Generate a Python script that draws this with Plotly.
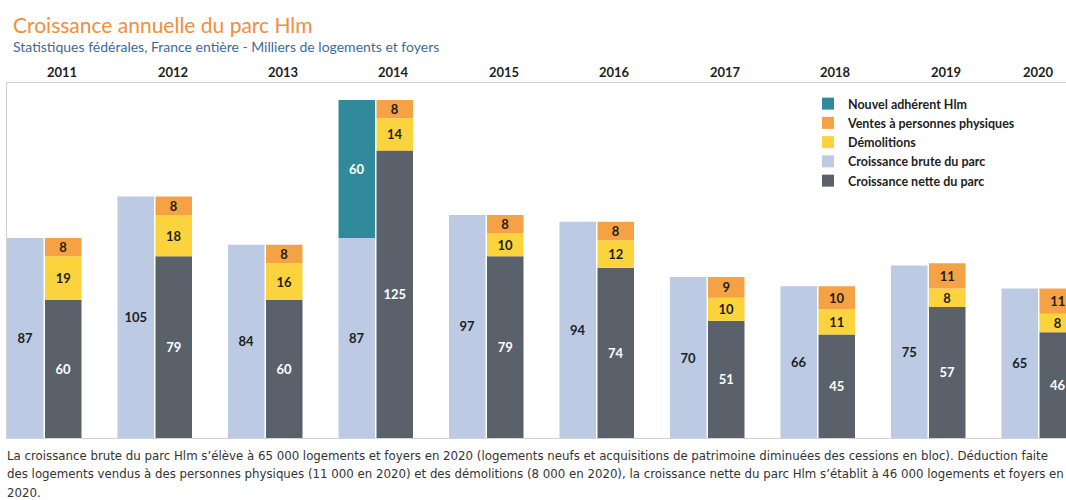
import plotly.graph_objects as go

years = [2011, 2012, 2013, 2014, 2015, 2016, 2017, 2018, 2019, 2020]
brute = [87, 105, 84, 87, 97, 94, 70, 66, 75, 65]
adherent = [None, None, None, 60, None, None, None, None, None, None]
nette = [60, 79, 60, 125, 79, 74, 51, 45, 57, 46]
demolitions = [19, 18, 16, 14, 10, 12, 10, 11, 8, 8]
ventes = [8, 8, 8, 8, 8, 8, 9, 10, 11, 11]

C_TEAL = "#318a9c"
C_ORANGE = "#f4a244"
C_YELLOW = "#fbd33c"
C_LIGHT = "#bccae4"
C_DARK = "#5b616b"

FONT = "Lato, 'Open Sans', sans-serif"
PANE = 110.5          # pixels per year
W = 36.5 / PANE
OFF_L = -0.5
OFF_R = -0.5 + 38 / PANE
FIG_W, FIG_H = 1066, 500
M_L, M_R, M_T, M_B = 7, 0, 83, 62
PLOT_W = FIG_W - M_L - M_R
PLOT_H = FIG_H - M_T - M_B

base_adh = [b if a is not None else None for a, b in zip(adherent, brute)]
base_dem = nette
base_ven = [n + d for n, d in zip(nette, demolitions)]

lbl_dark = dict(family=FONT, size=13, color="#1e1e1e", weight="bold")
lbl_white = dict(family=FONT, size=13, color="#ffffff", weight="bold")

fig = go.Figure()
fig.add_trace(go.Bar(x=years, y=brute, name="Croissance brute du parc", marker_color=C_LIGHT,
                     width=W, offset=OFF_L, text=brute, textposition="inside", insidetextanchor="middle",
                     textangle=0, textfont=lbl_dark, legendrank=4))
fig.add_trace(go.Bar(x=years, y=adherent, base=base_adh, name="Nouvel adhérent Hlm", marker_color=C_TEAL,
                     width=W, offset=OFF_L, text=adherent, textposition="inside", insidetextanchor="middle",
                     textangle=0, textfont=lbl_white, legendrank=1))
fig.add_trace(go.Bar(x=years, y=nette, name="Croissance nette du parc", marker_color=C_DARK,
                     width=W, offset=OFF_R, text=nette, textposition="inside", insidetextanchor="middle",
                     textangle=0, textfont=lbl_white, legendrank=5))
fig.add_trace(go.Bar(x=years, y=demolitions, base=base_dem, name="Démolitions", marker_color=C_YELLOW,
                     width=W, offset=OFF_R, text=demolitions, textposition="inside", insidetextanchor="middle",
                     textangle=0, textfont=lbl_dark, legendrank=3))
fig.add_trace(go.Bar(x=years, y=ventes, base=base_ven, name="Ventes à personnes physiques", marker_color=C_ORANGE,
                     width=W, offset=OFF_R, text=ventes, textposition="inside", insidetextanchor="middle",
                     textangle=0, textfont=lbl_dark, legendrank=2))

fig.update_traces(marker_line_width=0, hoverinfo="skip", cliponaxis=False)

annotations = []
for i, y in enumerate(years):
    annotations.append(dict(x=y, y=1, xref="x", yref="paper", yanchor="bottom", xanchor="center",
                            yshift=1, xshift=(-18 if i == len(years) - 1 else 0), showarrow=False,
                            text="<b>%d</b>" % y, font=dict(family=FONT, size=13, color="#1e1e1e")))

annotations.append(dict(x=0, y=1, xref="paper", yref="paper", xanchor="left", yanchor="middle",
                        xshift=4, yshift=59, showarrow=False, text="Croissance annuelle du parc Hlm",
                        font=dict(family=FONT, size=21, color="#f28e3c")))
annotations.append(dict(x=0, y=1, xref="paper", yref="paper", xanchor="left", yanchor="middle",
                        xshift=4, yshift=37, showarrow=False,
                        text="Statistiques fédérales, France entière - Milliers de logements et foyers",
                        font=dict(family=FONT, size=14, color="#3f6a98")))

notes = [
    "La croissance brute du parc Hlm s’élève à 65 000 logements et foyers en 2020 (logements neufs et acquisitions de patrimoine diminuées des cessions en bloc). Déduction faite",
    "des logements vendus à des personnes physiques (11 000 en 2020) et des démolitions (8 000 en 2020), la croissance nette du parc Hlm s’établit à 46 000 logements et foyers en",
    "2020.",
]
for k, line in enumerate(notes):
    annotations.append(dict(x=0, y=0, xref="paper", yref="paper", xanchor="left", yanchor="middle",
                            xshift=-2, yshift=-17 - 18.5 * k, showarrow=False, text=line,
                            font=dict(family="'Liberation Sans Narrow', 'DejaVu Sans Condensed', sans-serif",
                                      size=13.1, color="#333333")))

fig.update_layout(
    width=FIG_W, height=FIG_H,
    margin=dict(l=M_L, r=M_R, t=M_T, b=M_B),
    paper_bgcolor="white", plot_bgcolor="white",
    barmode="overlay",
    showlegend=True,
    legend=dict(x=801 / PLOT_W, y=(PLOT_H - 6) / PLOT_H, xanchor="left", yanchor="top",
                traceorder="normal", font=dict(family=FONT, size=12.5, color="#1e1e1e", weight="bold"),
                bgcolor="rgba(0,0,0,0)", itemclick=False, itemdoubleclick=False),
    uniformtext=dict(minsize=13, mode="show"),
    xaxis=dict(range=[2010.5, 2010.5 + PLOT_W / PANE], showticklabels=False, showgrid=False, zeroline=False,
               showline=True, linecolor="#d3d3d3", linewidth=1, mirror=True, ticks="", fixedrange=True),
    yaxis=dict(range=[0, PLOT_H / 2.3], showticklabels=False, showgrid=False, zeroline=False,
               showline=True, linecolor="#d3d3d3", linewidth=1, ticks="", fixedrange=True),
    annotations=annotations,
    hovermode=False,
)

fig.write_html("out.html", config={"displayModeBar": False},
               post_script="document.body.style.margin='0';document.body.style.overflow='hidden';")
